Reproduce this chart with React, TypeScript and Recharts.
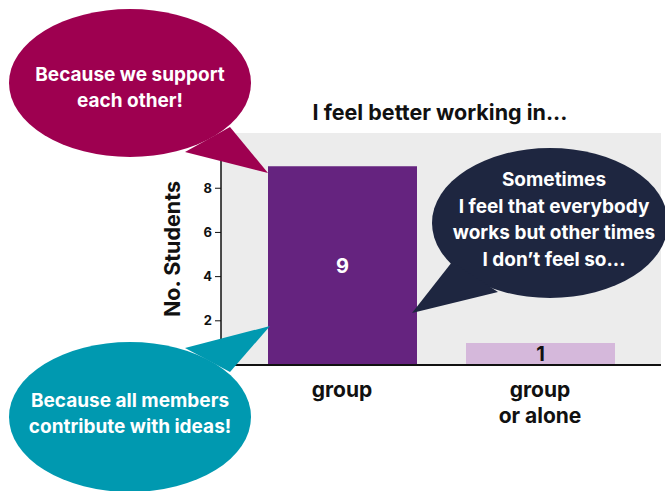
import React from 'react';
import { BarChart, Bar, XAxis, YAxis, CartesianGrid, Cell, LabelList, Label } from 'recharts';

const categories = ['group', 'group or alone'];
const students = [9, 1];
const categoryLines = [['group'], ['group', 'or alone']];
const yTicks = [2, 4, 6, 8];

const barColors = ['#65237f', '#d5b8db'];
const labelColors = ['#ffffff', '#111111'];
const FONT = 'Inter, "Open Sans", sans-serif';

const data = categories.map((c, i) => ({ name: c, value: students[i] }));

const XTick = (props: any) => {
  const { x, y, index } = props;
  const lines = categoryLines[index] || [props.payload.value];
  return (
    <text x={x} y={y} textAnchor="middle" fontFamily={FONT} fontWeight={700} fontSize={21} fill="#111">
      {lines.map((l, i) => (
        <tspan key={i} x={x} dy={i === 0 ? 32 : 26}>{l}</tspan>
      ))}
    </text>
  );
};

const BarValue = (props: any) => {
  const { x, y, width, height, index, value } = props;
  return (
    <text
      x={x + width / 2}
      y={y + height / 2}
      dy={7}
      textAnchor="middle"
      fontFamily={FONT}
      fontWeight={700}
      fontSize={20}
      fill={labelColors[index]}
    >
      {value}
    </text>
  );
};

type BubbleProps = {
  cx: number; cy: number; rx: number; ry: number;
  tail: [number, number][]; color: string; lines: string[]; textX: number; textY: number; lineH: number;
};

const Bubble = ({ cx, cy, rx, ry, tail, color, lines, textX, textY, lineH }: BubbleProps) => (
  <g>
    <ellipse cx={cx} cy={cy} rx={rx} ry={ry} fill={color} />
    <polygon points={tail.map((p) => p.join(',')).join(' ')} fill={color} />
    <text x={textX} y={textY} textAnchor="middle" fontFamily={FONT} fontWeight={700} fontSize={19} fill="#fff">
      {lines.map((l, i) => (
        <tspan key={i} x={textX} dy={i === 0 ? 0 : lineH}>{l}</tspan>
      ))}
    </text>
  </g>
);

export default function App() {
  return (
    <div style={{ position: 'absolute', left: 0, top: 0, width: 665, height: 491, background: '#fff' }}>
      <BarChart width={665} height={491} data={data} margin={{ top: 133, right: 4, bottom: 0, left: 0 }}>
        <CartesianGrid fill="#ececec" horizontal={false} vertical={false} />
        <XAxis
          dataKey="name"
          padding={{ left: 22, right: 22 }}
          tickLine={false}
          tickSize={0}
          tickMargin={0}
          tick={<XTick />}
          axisLine={{ stroke: '#111', strokeWidth: 2 }}
          interval={0}
          height={126}
        />
        <YAxis
          width={221}
          domain={[0, 10.5]}
          ticks={yTicks}
          tickSize={6}
          tickMargin={3}
          tick={{ fontFamily: FONT, fontWeight: 700, fontSize: 13, fill: '#111' }}
          tickLine={{ stroke: '#111' }}
          axisLine={{ stroke: '#111', strokeWidth: 1.5 }}
        >
          <Label
            value="No. Students"
            angle={-90}
            position="center"
            dx={62}
            style={{ fontFamily: FONT, fontWeight: 700, fontSize: 21.5, fill: '#111' }}
          />
        </YAxis>
        <Bar dataKey="value" barSize={149} isAnimationActive={false}>
          {data.map((d, i) => (
            <Cell key={d.name} fill={barColors[i]} />
          ))}
          <LabelList dataKey="value" content={<BarValue />} />
        </Bar>
      </BarChart>
      <svg width={665} height={491} style={{ position: 'absolute', left: 0, top: 0, pointerEvents: 'none' }}>
        <text x={440} y={120} textAnchor="middle" fontFamily={FONT} fontWeight={700} fontSize={21.5} fill="#111">
          I feel better working in...
        </text>
        <Bubble
          cx={130} cy={83} rx={121} ry={74}
          tail={[[185, 152], [230, 127], [268, 173]]}
          color="#9e0050"
          lines={['Because we support', 'each other!']}
          textX={130} textY={81} lineH={26}
        />
        <Bubble
          cx={550} cy={223} rx={118} ry={75}
          tail={[[452, 262], [412, 313], [498, 292]]}
          color="#1e2640"
          lines={['Sometimes', 'I feel that everybody', 'works but other times', 'I don\u2019t feel so...']}
          textX={554} textY={186} lineH={26.7}
        />
        <Bubble
          cx={130} cy={417} rx={121} ry={75}
          tail={[[185, 348], [270, 326], [230, 372]]}
          color="#0099b0"
          lines={['Because all members', 'contribute with ideas!']}
          textX={130} textY={407} lineH={26}
        />
      </svg>
    </div>
  );
}
